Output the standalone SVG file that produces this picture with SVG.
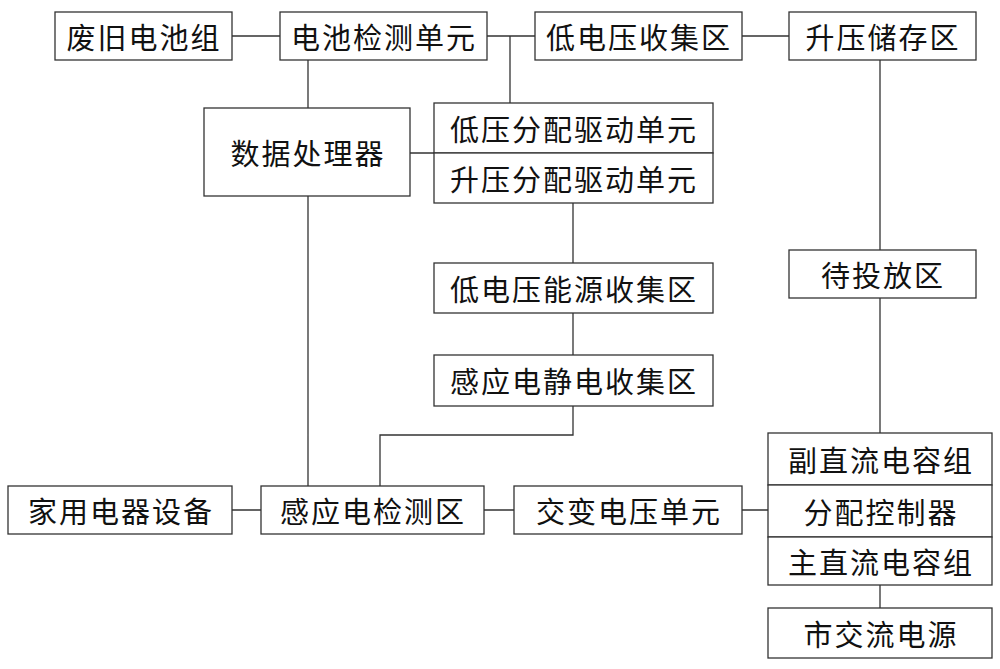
<svg xmlns="http://www.w3.org/2000/svg" width="1000" height="669" viewBox="0 0 1000 669">
<style>
rect{fill:#fff;stroke:#333;stroke-width:1.3}
text{font-family:"Noto Sans CJK SC",sans-serif;font-size:29px;letter-spacing:2px;fill:#111;text-anchor:middle;dominant-baseline:central}
#connectors path{fill:none;stroke:#333;stroke-width:1.3}
</style>
<rect width="1000" height="669" style="stroke:none"/>
<g id="connectors">
<path d="M232 36H280M487 36H535M510 36V103M742 36H789M308 60V108M308 196V486M410 153H434M573 203V263M573 313V355M573 406V435H380V486M880 60V250M880 298V433M232 510H261M484 510H514M742 510H768M880 585V608"/>
</g>
<g id="n1"><rect x="55" y="12" width="177" height="48"/><text x="144" y="36">废旧电池组</text></g>
<g id="n2"><rect x="280" y="12" width="207" height="48"/><text x="384" y="36">电池检测单元</text></g>
<g id="n3"><rect x="535" y="12" width="207" height="48"/><text x="639" y="36">低电压收集区</text></g>
<g id="n4"><rect x="789" y="12" width="187" height="48"/><text x="883" y="36">升压储存区</text></g>
<g id="n5"><rect x="204" y="108" width="206" height="88"/><text x="308" y="152">数据处理器</text></g>
<g id="n6"><rect x="434" y="103" width="279" height="50"/><text x="574" y="128">低压分配驱动单元</text></g>
<g id="n7"><rect x="434" y="153" width="279" height="50"/><text x="574" y="178">升压分配驱动单元</text></g>
<g id="n8"><rect x="434" y="263" width="279" height="50"/><text x="574" y="288">低电压能源收集区</text></g>
<g id="n9"><rect x="434" y="355" width="279" height="51"/><text x="574" y="380">感应电静电收集区</text></g>
<g id="n10"><rect x="789" y="250" width="187" height="48"/><text x="883" y="274">待投放区</text></g>
<g id="n11"><rect x="768" y="433" width="224" height="52"/><text x="881" y="459">副直流电容组</text></g>
<g id="n12"><rect x="768" y="485" width="224" height="52"/><text x="881" y="511">分配控制器</text></g>
<g id="n13"><rect x="768" y="537" width="224" height="48"/><text x="881" y="561">主直流电容组</text></g>
<g id="n14"><rect x="768" y="608" width="224" height="50"/><text x="881" y="633">市交流电源</text></g>
<g id="n15"><rect x="8" y="486" width="224" height="48"/><text x="121" y="510">家用电器设备</text></g>
<g id="n16"><rect x="261" y="486" width="223" height="48"/><text x="373" y="510">感应电检测区</text></g>
<g id="n17"><rect x="514" y="486" width="228" height="48"/><text x="629" y="510">交变电压单元</text></g>
</svg>
